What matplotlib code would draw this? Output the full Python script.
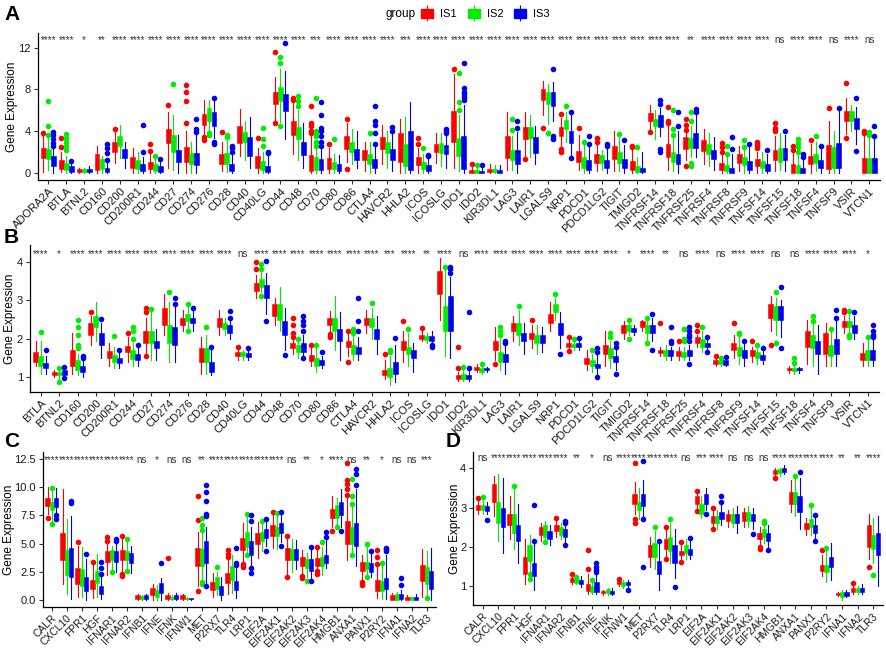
"""Immune checkpoint / ICD gene expression across IS1-IS3 subtypes (4 panels)."""

import matplotlib

matplotlib.use("Agg")

import matplotlib.pyplot as plt
from matplotlib.legend_handler import HandlerTuple
from matplotlib.lines import Line2D
from matplotlib.patches import Patch

plt.rcParams["font.family"] = ["Liberation Sans", "DejaVu Sans"]

GROUPS = ["IS1", "IS2", "IS3"]
COLORS = ["#FF0000", "#00EE00", "#0000F0"]

# ---- panel A / B genes -------------------------------------------------------
A_GENES = ["ADORA2A", "BTLA", "BTNL2", "CD160", "CD200", "CD200R1", "CD244", "CD27", "CD274",
           "CD276", "CD28", "CD40", "CD40LG", "CD44", "CD48", "CD70", "CD80", "CD86", "CTLA4",
           "HAVCR2", "HHLA2", "ICOS", "ICOSLG", "IDO1", "IDO2", "KIR3DL1", "LAG3", "LAIR1",
           "LGALS9", "NRP1", "PDCD1", "PDCD1LG2", "TIGIT", "TMIGD2", "TNFRSF14", "TNFRSF18",
           "TNFRSF25", "TNFRSF4", "TNFRSF8", "TNFRSF9", "TNFSF14", "TNFSF15", "TNFSF18",
           "TNFSF4", "TNFSF9", "VSIR", "VTCN1"]
A_SIG = ["****", "****", "*", "**", "****", "****", "****", "****", "****", "****", "****",
         "****", "****", "****", "****", "***", "****", "****", "****", "****", "***", "****",
         "****", "****", "****", "****", "****", "****", "****", "****", "****", "****", "****",
         "****", "****", "****", "**", "****", "****", "****", "****", "ns", "****", "****",
         "ns", "****", "ns"]

# box stats per gene: (whisker low, q1, median, q3, whisker high, [outliers])
A_IS1 = [
    (0.05, 1.4, 1.9, 2.4, 3.5, [3.8]), (0.05, 0.4, 0.8, 1.2, 2.0, [2.5, 3.3]),
    (0.0, 0.05, 0.2, 0.4, 0.5, []), (0.0, 0.3, 0.7, 1.8, 2.6, []),
    (0.9, 2.0, 2.5, 3.0, 4.0, [4.2]), (0.0, 0.5, 0.9, 1.5, 2.4, []),
    (0.0, 0.4, 0.7, 1.0, 2.0, [2.1, 2.8]), (0.5, 2.9, 3.6, 4.2, 5.8, [6.5]),
    (0.0, 1.0, 1.6, 2.5, 4.0, [4.8, 6.9, 7.8, 8.4]), (3.6, 4.6, 5.2, 5.6, 7.0, [3.1, 3.4]),
    (0.2, 0.8, 1.3, 1.8, 3.0, [3.9]), (1.6, 2.9, 3.7, 4.5, 6.1, []),
    (0.0, 0.5, 0.9, 1.6, 2.4, [3.3]), (4.9, 6.6, 7.2, 7.8, 9.2, [4.8, 11.6]),
    (1.8, 3.6, 4.3, 5.0, 6.8, [7.0, 7.2]), (0.0, 0.2, 0.9, 1.7, 3.5, [3.8, 4.0, 4.5, 4.8, 6.4]),
    (0.0, 0.4, 0.9, 1.4, 2.4, [2.8]), (1.0, 2.3, 2.9, 3.5, 4.8, [0.4, 5.2]),
    (0.2, 1.2, 1.7, 2.2, 3.0, []), (0.8, 2.3, 2.8, 3.4, 4.6, []),
    (0.0, 1.0, 2.6, 3.8, 5.2, []), (0.0, 0.7, 1.0, 1.5, 2.4, [2.8, 3.3]),
    (0.9, 2.0, 2.4, 2.8, 3.8, []), (0.5, 3.0, 4.5, 5.9, 9.5, [10.0]),
    (0.0, 0.0, 0.1, 0.3, 0.7, [0.8]), (0.0, 0.05, 0.15, 0.4, 0.8, []),
    (0.3, 1.4, 2.6, 3.5, 5.8, []), (1.6, 3.2, 4.0, 4.4, 5.8, [1.3]),
    (5.5, 7.0, 7.6, 8.0, 8.8, [4.3]), (2.4, 3.5, 3.9, 4.4, 5.3, [2.0, 2.3, 5.6]),
    (0.3, 1.0, 1.5, 2.1, 3.6, [4.3]), (0.2, 0.9, 1.3, 1.8, 2.8, [3.0, 3.3]),
    (0.2, 1.3, 1.9, 2.6, 4.0, []), (0.0, 0.3, 0.6, 1.1, 2.2, [2.5, 2.6]),
    (4.0, 5.0, 5.4, 5.7, 6.5, [3.9]), (0.3, 1.5, 2.0, 2.8, 4.5, [4.8, 5.0, 6.3]),
    (1.2, 2.3, 2.8, 3.4, 3.9, [0.6, 4.1, 4.6, 5.2]), (0.8, 2.1, 2.6, 3.1, 4.2, []),
    (0.0, 0.3, 0.5, 0.9, 1.7, [2.0, 2.5, 2.9]), (0.2, 0.9, 1.3, 1.8, 2.6, []),
    (0.0, 0.6, 0.9, 1.3, 2.0, [2.4, 2.7, 3.0]), (0.2, 1.2, 1.6, 2.2, 3.5, [4.0, 4.3, 4.8]),
    (0.0, 0.0, 0.2, 0.8, 2.0, [2.2, 2.6]), (0.0, 0.8, 1.2, 1.6, 2.8, [3.1]),
    (0.0, 0.4, 1.4, 2.7, 5.0, [6.2]), (3.7, 5.0, 5.5, 5.9, 7.2, [3.3, 8.6]),
    (0.0, 0.0, 0.3, 1.4, 3.5, [3.8, 4.0]),
]
A_IS2 = [
    (0.3, 1.3, 1.8, 2.3, 3.3, [3.6, 4.5, 6.9]), (0.0, 0.25, 0.5, 0.9, 1.6, [2.2, 2.6, 3.0, 3.3, 3.7]),
    (0.0, 0.05, 0.2, 0.4, 0.5, []), (0.0, 0.4, 0.8, 1.3, 1.6, []),
    (1.4, 2.6, 3.0, 3.5, 4.6, []), (0.0, 0.4, 0.7, 1.2, 2.0, []),
    (0.0, 0.2, 0.5, 0.8, 1.5, [1.6]), (0.3, 2.0, 2.8, 3.6, 5.5, [8.5]),
    (0.0, 0.8, 1.3, 1.9, 3.0, []), (3.9, 5.0, 5.7, 6.2, 7.0, [3.6, 3.8]),
    (0.1, 0.8, 1.2, 1.9, 3.2, [3.4, 3.6]), (1.2, 3.0, 3.3, 3.9, 5.0, []),
    (0.0, 0.3, 0.7, 1.1, 2.0, [2.6, 3.2, 4.3]), (4.9, 6.9, 7.6, 8.2, 10.0, [4.5, 10.5, 11.1]),
    (1.2, 3.2, 3.8, 4.4, 6.0, [6.4, 6.9, 7.4]), (0.0, 0.3, 0.8, 1.5, 2.5, [2.6, 3.0, 3.5, 3.8, 4.0, 7.2]),
    (0.0, 0.4, 0.7, 1.0, 1.8, [3.2]), (0.8, 2.0, 2.5, 3.0, 4.2, []),
    (0.0, 0.8, 1.3, 1.8, 3.0, [3.8]), (0.5, 1.9, 2.4, 3.0, 4.0, []),
    (0.0, 0.6, 1.6, 2.8, 5.4, []), (0.0, 0.4, 0.7, 1.0, 1.8, [2.4]),
    (0.6, 1.9, 2.4, 2.9, 3.8, []), (0.2, 1.6, 2.3, 3.3, 5.5, [6.0, 6.8, 9.6]),
    (0.0, 0.0, 0.1, 0.3, 0.6, [0.7]), (0.0, 0.05, 0.15, 0.35, 0.7, []),
    (0.3, 1.2, 1.6, 2.2, 3.5, [4.1, 5.2]), (1.5, 3.3, 3.9, 4.4, 5.5, []),
    (4.7, 6.6, 7.2, 7.8, 8.5, [3.8]), (3.0, 4.2, 4.7, 5.1, 5.8, [6.4]),
    (0.0, 0.5, 0.9, 1.5, 2.8, [3.0]), (0.3, 0.9, 1.3, 1.7, 2.2, []),
    (0.2, 0.9, 1.4, 2.0, 3.6, [3.7]), (0.0, 0.1, 0.3, 0.6, 1.5, [2.5]),
    (3.2, 4.5, 4.8, 5.2, 6.0, []), (0.2, 1.0, 1.5, 2.0, 3.5, [3.6, 4.2, 6.0]),
    (1.5, 2.4, 2.8, 3.3, 4.5, [0.6, 0.9, 5.0, 5.8]), (0.6, 1.8, 2.3, 2.8, 3.8, []),
    (0.0, 0.2, 0.4, 0.7, 1.5, [1.8, 2.6]), (0.0, 0.7, 1.0, 1.5, 2.3, [2.5, 3.1]),
    (0.0, 0.5, 0.8, 1.1, 2.0, []), (0.3, 1.0, 1.7, 2.4, 3.8, []),
    (0.0, 0.0, 0.2, 0.7, 1.8, [2.0, 2.5, 2.9, 3.2]), (0.2, 0.9, 1.3, 1.8, 3.0, [3.5]),
    (0.0, 0.5, 1.2, 2.5, 4.0, []), (4.0, 5.0, 5.4, 5.9, 6.5, []),
    (0.0, 0.0, 0.5, 1.4, 3.5, [3.6, 3.9]),
]
A_IS3 = [
    (0.0, 0.6, 1.0, 1.6, 2.5, [2.6, 2.9, 3.2, 3.6, 3.9]), (0.0, 0.1, 0.3, 0.6, 1.0, [1.1]),
    (0.0, 0.05, 0.15, 0.35, 0.6, []), (0.0, 0.1, 0.3, 0.5, 1.0, [1.2, 1.9, 2.4, 2.8]),
    (0.5, 1.4, 1.8, 2.3, 3.0, []), (0.0, 0.2, 0.4, 0.8, 1.5, [2.0, 4.6]),
    (0.0, 0.1, 0.3, 0.6, 1.2, [1.3]), (0.0, 1.0, 1.5, 2.2, 3.6, []),
    (0.0, 0.7, 1.2, 1.9, 3.8, [3.9, 4.2, 5.2]), (3.3, 4.5, 5.2, 5.8, 6.9, [2.8, 3.0, 7.2]),
    (0.0, 0.2, 0.5, 0.8, 1.8, [2.0, 2.4, 2.6]), (0.5, 1.6, 2.6, 3.4, 5.4, []),
    (0.0, 0.1, 0.3, 0.6, 1.8, [1.9, 2.0]), (3.2, 5.9, 6.8, 7.6, 9.8, [12.5]),
    (0.5, 1.7, 2.3, 3.0, 4.8, []), (0.0, 0.3, 0.7, 1.3, 2.5, [2.6, 3.0, 3.5, 4.0, 4.3, 5.5, 6.8]),
    (0.0, 0.2, 0.5, 0.8, 1.7, []), (0.5, 1.2, 1.7, 2.3, 4.0, []),
    (0.0, 0.5, 0.9, 1.3, 2.6, [2.8, 3.8, 4.6, 5.0, 6.4]), (0.2, 1.2, 1.7, 2.3, 3.8, [4.0, 4.4]),
    (0.0, 0.3, 1.2, 4.0, 6.8, []), (0.0, 0.2, 0.4, 0.7, 1.4, [1.6, 1.7]),
    (0.5, 1.8, 2.2, 2.7, 3.5, [3.8, 4.0, 4.2]), (0.0, 0.4, 2.0, 3.5, 6.5, [7.0, 7.3, 7.6, 7.8, 8.1, 10.5]),
    (0.0, 0.0, 0.1, 0.2, 0.6, [0.7]), (0.0, 0.0, 0.1, 0.3, 0.7, []),
    (0.0, 0.8, 1.5, 2.2, 3.9, [4.3, 5.0]), (0.8, 1.9, 2.7, 3.4, 4.5, []),
    (5.0, 6.4, 7.0, 7.8, 8.7, [3.2, 3.5, 10.0]), (1.5, 2.9, 3.4, 4.0, 5.5, [1.4, 5.8]),
    (0.0, 0.3, 0.7, 1.2, 2.6, [2.8, 3.5]), (0.0, 0.5, 0.8, 1.2, 2.4, [2.6, 2.8]),
    (0.0, 0.5, 0.9, 1.3, 2.7, [3.1]), (0.0, 0.1, 0.3, 0.5, 2.0, []),
    (3.5, 4.4, 5.0, 5.5, 6.2, [2.0, 2.3, 6.6, 7.0]), (0.0, 0.8, 1.2, 1.8, 4.0, [4.5, 5.8]),
    (1.5, 2.4, 3.2, 3.8, 5.5, [5.8, 6.1]), (0.3, 1.3, 1.7, 2.2, 3.4, []),
    (0.0, 0.0, 0.2, 0.5, 1.8, [2.3, 3.4]), (0.0, 0.3, 0.6, 1.1, 2.5, [2.8]),
    (0.0, 0.2, 0.5, 0.8, 1.8, [2.2]), (0.2, 1.2, 1.7, 2.4, 3.6, [4.0]),
    (0.0, 0.0, 0.1, 0.5, 1.3, [1.5, 1.8]), (0.0, 0.5, 0.8, 1.2, 2.3, [2.6]),
    (0.0, 0.5, 1.6, 2.9, 6.0, [6.2]), (2.8, 4.2, 4.7, 5.3, 6.3, [2.1, 7.2]),
    (0.0, 0.0, 0.4, 1.4, 3.4, [3.5, 4.5]),
]

B_GENES = A_GENES[1:]
B_SIG = ["****", "*", "****", "****", "****", "****", "****", "****", "****", "****", "****",
         "ns", "****", "****", "****", "****", "****", "****", "****", "***", "****", "**",
         "****", "ns", "****", "****", "****", "****", "****", "****", "****", "****", "*",
         "****", "**", "ns", "****", "ns", "****", "****", "ns", "ns", "****", "****", "****", "*"]
B_IS1 = [
    (1.3, 1.41, 1.55, 1.67, 1.95, []), (1.0, 1.05, 1.1, 1.15, 1.2, []),
    (1.1, 1.3, 1.45, 1.7, 2.15, []), (1.85, 2.1, 2.25, 2.4, 2.6, [2.7]),
    (1.3, 1.5, 1.6, 1.68, 1.9, []), (1.4, 1.65, 1.75, 1.82, 2.05, [2.15]),
    (1.6, 1.9, 2.05, 2.2, 2.55, [1.55, 2.7, 2.8]), (2.1, 2.35, 2.55, 2.8, 3.15, []),
    (2.2, 2.35, 2.45, 2.55, 2.75, []), (1.1, 1.4, 1.55, 1.75, 2.05, []),
    (2.1, 2.3, 2.4, 2.55, 2.75, []), (1.45, 1.55, 1.6, 1.65, 1.75, [1.8]),
    (3.05, 3.25, 3.35, 3.45, 3.65, [3.8, 4.0]), (2.35, 2.6, 2.75, 2.9, 3.05, []),
    (1.6, 1.75, 1.8, 1.88, 2.0, [2.05, 2.15, 2.35, 2.55]), (1.3, 1.42, 1.5, 1.58, 1.75, [1.85]),
    (2.2, 2.35, 2.45, 2.55, 2.72, [2.05, 2.12]), (1.55, 1.8, 1.88, 1.95, 2.15, [1.4, 2.2]),
    (2.15, 2.35, 2.45, 2.55, 2.75, []), (0.95, 1.05, 1.1, 1.2, 1.45, [1.6]),
    (1.4, 1.7, 1.8, 1.95, 2.2, [2.45]), (1.95, 2.0, 2.05, 2.1, 2.2, [2.27]),
    (2.5, 3.15, 3.45, 3.75, 4.1, []), (0.9, 0.95, 1.0, 1.05, 1.15, [1.25, 1.8]),
    (1.15, 1.2, 1.22, 1.28, 1.35, []), (1.45, 1.7, 1.85, 1.95, 2.3, [1.35]),
    (1.95, 2.2, 2.3, 2.4, 2.6, []), (1.75, 2.0, 2.07, 2.15, 2.35, [2.5]),
    (2.2, 2.4, 2.5, 2.65, 2.95, []), (1.72, 1.8, 1.85, 1.9, 1.98, [1.68, 2.05]),
    (1.2, 1.35, 1.42, 1.5, 1.7, []), (1.3, 1.6, 1.75, 1.85, 2.2, []),
    (2.0, 2.15, 2.25, 2.35, 2.45, []), (2.2, 2.3, 2.35, 2.45, 2.5, []),
    (1.55, 1.62, 1.67, 1.72, 1.8, [2.4]), (1.45, 1.55, 1.62, 1.68, 1.8, [1.95]),
    (1.8, 1.9, 1.97, 2.05, 2.1, [2.2, 2.35]), (1.3, 1.35, 1.4, 1.45, 1.5, [1.55]),
    (1.5, 1.7, 1.8, 1.9, 2.1, [2.4]), (1.4, 1.55, 1.62, 1.72, 1.8, [1.95]),
    (2.2, 2.55, 2.7, 2.9, 3.1, [1.85]), (1.12, 1.18, 1.2, 1.25, 1.3, []),
    (1.35, 1.8, 1.95, 2.2, 2.5, []), (1.3, 1.6, 1.85, 2.15, 2.4, []),
    (2.15, 2.3, 2.38, 2.45, 2.6, [2.7, 2.75]), (1.3, 1.45, 1.5, 1.62, 1.9, []),
]
B_IS2 = [
    (1.1, 1.3, 1.45, 1.55, 1.95, [2.18]), (0.95, 1.05, 1.1, 1.15, 1.2, [0.88, 1.25]),
    (1.05, 1.2, 1.3, 1.45, 1.6, [1.75, 1.85, 2.1, 2.3, 2.48]), (1.95, 2.3, 2.45, 2.6, 2.95, []),
    (1.25, 1.4, 1.5, 1.58, 1.8, [2.08]), (1.3, 1.48, 1.58, 1.7, 1.9, [2.0, 2.2, 2.3]),
    (1.45, 1.9, 2.05, 2.2, 2.7, [2.78]), (1.4, 1.9, 2.1, 2.35, 2.95, [3.2]),
    (2.25, 2.45, 2.55, 2.65, 2.85, [2.2, 2.9]), (1.1, 1.4, 1.55, 1.75, 2.1, [2.3]),
    (2.1, 2.25, 2.32, 2.4, 2.55, []), (1.45, 1.55, 1.58, 1.65, 1.7, []),
    (3.2, 3.35, 3.45, 3.55, 3.75, [3.1, 3.8, 3.95]), (2.2, 2.5, 2.7, 2.9, 3.35, []),
    (1.5, 1.65, 1.75, 1.85, 1.95, [2.0]), (1.15, 1.3, 1.4, 1.5, 1.75, [1.85]),
    (1.7, 2.2, 2.4, 2.55, 3.1, []), (1.45, 1.6, 1.7, 1.85, 2.1, [2.15, 2.25]),
    (2.0, 2.3, 2.42, 2.55, 2.8, [2.92]), (0.8, 1.0, 1.1, 1.25, 1.55, [1.65, 1.72]),
    (1.3, 1.6, 1.7, 1.8, 2.15, [2.25]), (1.9, 1.98, 2.02, 2.06, 2.15, []),
    (1.55, 2.2, 2.5, 2.85, 3.8, [3.85]), (0.9, 0.95, 1.0, 1.08, 1.25, [1.28]),
    (1.1, 1.15, 1.2, 1.25, 1.33, [1.35]), (1.2, 1.4, 1.5, 1.65, 2.0, [2.1, 2.2, 2.3]),
    (1.85, 2.1, 2.25, 2.4, 2.75, [2.85]), (1.6, 1.9, 2.0, 2.1, 2.35, []),
    (2.5, 2.7, 2.8, 2.9, 3.05, [3.15]), (1.7, 1.78, 1.82, 1.87, 1.95, [2.0]),
    (1.15, 1.3, 1.38, 1.45, 1.6, [1.7]), (1.25, 1.5, 1.6, 1.75, 1.95, [2.05, 2.15]),
    (2.1, 2.2, 2.27, 2.35, 2.45, [2.0, 2.5]), (1.95, 2.15, 2.25, 2.35, 2.5, [1.9, 2.55]),
    (1.45, 1.55, 1.62, 1.7, 1.85, []), (1.45, 1.52, 1.58, 1.65, 1.8, [1.95, 2.0, 2.25]),
    (1.65, 1.8, 1.9, 2.0, 2.2, [2.3]), (1.3, 1.35, 1.38, 1.45, 1.48, [1.5]),
    (1.35, 1.55, 1.65, 1.8, 2.05, [2.12, 2.15]), (1.35, 1.5, 1.55, 1.65, 1.8, [1.85]),
    (2.1, 2.5, 2.65, 2.85, 3.05, [1.9, 3.2]), (1.1, 1.17, 1.2, 1.25, 1.3, [1.38, 1.5]),
    (1.3, 1.75, 1.9, 2.1, 2.4, [2.45, 2.6]), (1.3, 1.55, 1.65, 1.85, 2.2, [2.25]),
    (2.15, 2.3, 2.38, 2.45, 2.65, [2.05, 2.1, 2.73]), (1.3, 1.45, 1.55, 1.7, 2.0, [2.05]),
]
B_IS3 = [
    (1.1, 1.25, 1.32, 1.38, 1.55, [1.72]), (1.0, 1.05, 1.12, 1.18, 1.22, [0.98, 1.27]),
    (1.0, 1.15, 1.22, 1.3, 1.45, [1.5, 1.55]), (1.5, 1.85, 2.0, 2.15, 2.4, [2.52]),
    (1.25, 1.38, 1.45, 1.5, 1.62, [1.7]), (1.3, 1.45, 1.52, 1.6, 1.75, [1.85]),
    (1.45, 1.75, 1.85, 1.95, 2.25, []), (1.4, 1.85, 2.1, 2.3, 2.85, [2.9, 3.05]),
    (2.2, 2.4, 2.48, 2.55, 2.75, [2.8]), (1.05, 1.15, 1.25, 1.4, 1.7, [1.8]),
    (2.0, 2.15, 2.25, 2.35, 2.5, [2.55, 2.72]), (1.45, 1.54, 1.58, 1.63, 1.72, [1.77]),
    (2.65, 3.05, 3.2, 3.4, 3.7, [2.45, 4.02]), (1.7, 2.1, 2.3, 2.45, 2.8, [1.58]),
    (1.55, 1.65, 1.78, 1.9, 2.1, [1.5, 2.2, 2.35, 2.45, 2.6]), (1.25, 1.33, 1.4, 1.45, 1.55, [1.65]),
    (1.45, 1.95, 2.1, 2.25, 2.7, []), (1.45, 1.6, 1.7, 1.8, 2.05, [2.2, 2.45, 3.07]),
    (1.6, 2.0, 2.12, 2.25, 2.6, []), (0.88, 1.1, 1.2, 1.4, 1.85, [2.02]),
    (1.15, 1.5, 1.6, 1.7, 1.9, []), (1.88, 1.95, 2.02, 2.08, 2.2, [1.8, 1.85]),
    (1.5, 2.2, 2.5, 3.1, 3.6, [3.7, 3.8, 3.85]), (0.9, 0.95, 1.0, 1.05, 1.2, [1.25, 2.7]),
    (1.15, 1.18, 1.21, 1.24, 1.28, []), (1.1, 1.4, 1.5, 1.6, 1.85, [1.9, 1.95]),
    (1.6, 1.95, 2.05, 2.15, 2.4, []), (1.65, 1.9, 2.0, 2.1, 2.3, []),
    (1.75, 2.1, 2.25, 2.4, 2.7, [1.6]), (1.7, 1.8, 1.85, 1.9, 1.98, [2.02]),
    (1.1, 1.25, 1.3, 1.35, 1.6, [1.0, 1.65, 1.75]), (1.2, 1.4, 1.48, 1.55, 1.75, [1.1, 1.8, 1.9]),
    (2.1, 2.18, 2.23, 2.28, 2.35, []), (1.95, 2.15, 2.25, 2.35, 2.55, [1.7, 2.65]),
    (1.45, 1.55, 1.62, 1.7, 1.8, [1.9, 1.95, 2.3]), (1.45, 1.55, 1.62, 1.7, 1.85, [1.35, 1.95, 2.05, 2.1, 2.2, 2.3]),
    (1.7, 1.8, 1.85, 1.9, 2.0, [1.65, 2.05]), (1.3, 1.33, 1.38, 1.45, 1.48, [1.52]),
    (1.3, 1.5, 1.6, 1.7, 1.9, [1.95]), (1.35, 1.45, 1.5, 1.58, 1.7, [1.75]),
    (2.05, 2.5, 2.65, 2.85, 3.0, [1.75, 3.35]), (1.12, 1.18, 1.2, 1.24, 1.28, []),
    (1.1, 1.6, 1.7, 1.95, 2.35, []), (1.3, 1.6, 1.75, 2.0, 2.45, [2.55, 2.75]),
    (2.0, 2.15, 2.25, 2.35, 2.6, [2.7]), (1.3, 1.45, 1.55, 1.72, 2.0, [2.05, 2.1, 2.2, 2.35]),
]

# ---- panel C / D genes -------------------------------------------------------
CD_GENES = ["CALR", "CXCL10", "FPR1", "HGF", "IFNAR1", "IFNAR2", "IFNB1", "IFNE", "IFNK",
            "IFNW1", "MET", "P2RX7", "TLR4", "LRP1", "EIF2A", "EIF2AK1", "EIF2AK2", "EIF2AK3",
            "EIF2AK4", "HMGB1", "ANXA1", "PANX1", "P2RY2", "IFNA1", "IFNA2", "TLR3"]
C_SIG = ["****", "****", "****", "****", "****", "****", "ns", "*", "ns", "ns", "**", "****",
         "****", "****", "****", "****", "ns", "**", "*", "****", "ns", "**", "*", "ns", "ns", "***"]
D_SIG = ["ns", "****", "****", "****", "****", "****", "**", "*", "ns", "****", "****", "****",
         "****", "ns", "***", "****", "ns", "ns", "ns", "****", "****", "****", "****", "**", "**", "****"]

C_IS1 = [
    (7.6, 8.3, 8.6, 9.0, 10.0, [7.3]), (1.4, 3.5, 4.5, 5.9, 9.8, []),
    (0.3, 1.4, 2.2, 2.8, 4.8, [5.1]), (0.2, 1.0, 1.4, 1.8, 3.2, [3.4]),
    (2.2, 3.4, 3.9, 4.3, 5.0, [5.2, 5.6]), (2.5, 3.5, 3.9, 4.4, 5.5, [2.1, 2.3, 5.7]),
    (0.0, 0.05, 0.2, 0.4, 0.5, []), (0.0, 0.4, 0.8, 1.1, 1.4, []),
    (0.0, 0.1, 0.3, 0.45, 0.6, [3.7]), (0.0, 0.05, 0.2, 0.4, 0.5, []),
    (1.2, 3.0, 3.9, 4.6, 6.0, [0.8, 7.1, 9.2]), (0.3, 0.9, 1.2, 1.6, 2.4, []),
    (0.5, 1.5, 1.9, 2.4, 3.6, [3.8, 4.1, 4.4]), (3.4, 4.4, 5.0, 5.5, 6.8, [2.9, 3.2]),
    (3.7, 5.0, 5.5, 5.9, 6.9, []), (4.6, 5.7, 6.1, 6.6, 7.6, [7.8]),
    (2.3, 3.5, 4.1, 4.6, 5.6, [2.0, 5.7]), (2.2, 3.0, 3.4, 3.8, 4.4, [1.9, 2.1]),
    (2.7, 3.0, 3.3, 3.7, 4.4, [2.3, 2.6, 4.7]), (6.5, 7.3, 7.7, 8.1, 9.2, [6.1]),
    (3.5, 5.0, 6.0, 7.0, 9.0, [9.3, 9.8, 10.3, 10.6, 12.1]), (1.8, 2.6, 3.0, 3.4, 4.0, [1.3, 1.6]),
    (0.2, 0.8, 1.2, 1.8, 3.0, [3.2, 3.8, 4.4]), (0.0, 0.0, 0.2, 0.4, 0.6, []),
    (0.0, 0.0, 0.15, 0.3, 0.4, []), (0.3, 1.7, 2.4, 3.1, 4.5, []),
]
C_IS2 = [
    (7.0, 8.0, 8.4, 8.7, 9.8, [6.7, 9.9]), (0.5, 2.2, 3.3, 4.4, 7.2, []),
    (0.3, 1.2, 1.8, 2.7, 4.7, []), (0.3, 1.5, 2.1, 2.6, 4.1, []),
    (2.6, 3.5, 4.0, 4.4, 4.8, [2.5]), (2.8, 3.5, 3.9, 4.3, 5.2, [2.6, 5.4]),
    (0.0, 0.05, 0.15, 0.35, 0.4, []), (0.0, 0.3, 0.6, 0.9, 1.3, []),
    (0.0, 0.1, 0.2, 0.3, 0.4, []), (0.0, 0.05, 0.1, 0.2, 0.3, []),
    (1.8, 3.0, 3.8, 4.5, 5.9, [1.4, 1.6, 6.2, 6.6, 7.3]), (0.4, 1.0, 1.5, 2.0, 2.5, [2.9]),
    (0.6, 1.8, 2.4, 3.0, 4.0, []), (4.2, 4.7, 5.4, 6.0, 7.5, [4.0, 7.6]),
    (4.3, 5.2, 5.6, 6.0, 6.9, [7.0]), (4.5, 5.7, 6.0, 6.5, 7.5, [7.7]),
    (2.5, 3.5, 4.0, 4.5, 5.4, []), (2.0, 2.8, 3.2, 3.6, 4.2, [1.7]),
    (2.2, 3.0, 3.4, 3.8, 4.7, [5.1]), (6.7, 7.3, 7.8, 8.4, 9.0, [6.5]),
    (4.2, 5.0, 5.8, 6.5, 8.2, [4.0, 8.5, 9.2, 10.7]), (2.3, 2.7, 3.0, 3.4, 4.8, [2.0, 5.0]),
    (0.1, 0.8, 1.1, 1.7, 3.2, [3.3]), (0.0, 0.0, 0.2, 0.5, 0.7, []),
    (0.0, 0.0, 0.1, 0.25, 0.3, []), (0.3, 1.4, 2.2, 2.9, 4.3, [0.2]),
]
C_IS3 = [
    (7.6, 8.2, 8.6, 9.0, 9.9, [7.2, 7.5]), (0.1, 2.0, 3.4, 4.6, 7.4, [8.6, 8.8]),
    (0.0, 0.8, 1.3, 2.0, 3.6, [4.1]), (0.1, 0.5, 0.8, 1.2, 2.2, [2.3, 2.8, 3.4]),
    (2.5, 3.4, 3.8, 4.3, 5.0, [5.2, 5.4]), (2.4, 3.3, 3.7, 4.2, 4.8, []),
    (0.0, 0.05, 0.15, 0.4, 0.5, []), (0.0, 0.6, 1.0, 1.5, 1.9, [3.3]),
    (0.0, 0.1, 0.2, 0.4, 0.6, []), (0.0, 0.05, 0.1, 0.15, 0.2, []),
    (1.5, 3.3, 4.3, 5.2, 6.5, [1.2, 7.4, 7.6, 8.8, 9.6, 10.2]), (0.0, 0.4, 0.8, 1.2, 2.0, []),
    (0.2, 0.9, 1.3, 1.7, 3.0, [3.1, 3.3, 4.6]), (3.0, 4.0, 4.6, 5.2, 6.5, [2.4, 2.8, 7.0, 7.5]),
    (4.8, 5.5, 5.9, 6.3, 7.0, [4.3, 7.2]), (5.1, 5.9, 6.3, 6.8, 7.6, [4.8, 7.8]),
    (2.7, 3.5, 4.0, 4.5, 5.3, []), (1.9, 2.6, 3.1, 3.6, 4.4, [1.7, 4.7]),
    (2.8, 3.3, 3.6, 4.0, 5.4, [5.6, 6.0]), (6.5, 7.5, 8.1, 8.7, 9.8, [6.1]),
    (3.0, 4.8, 5.8, 6.8, 9.8, [10.2, 11.2, 11.6]), (2.0, 2.5, 2.9, 3.3, 4.2, [4.3]),
    (0.1, 1.0, 1.3, 1.9, 4.0, [4.3, 4.5, 4.6]), (0.0, 0.1, 0.2, 0.5, 0.9, [1.3, 1.9]),
    (0.0, 0.0, 0.15, 0.3, 0.5, []), (0.0, 1.0, 1.8, 2.6, 4.6, []),
]

D_IS1 = [
    (2.85, 2.95, 3.0, 3.08, 3.2, [3.25]), (2.8, 3.15, 3.4, 3.6, 3.8, []),
    (2.2, 2.55, 2.7, 2.85, 3.3, []), (1.05, 1.3, 1.5, 1.75, 2.2, []),
    (2.15, 2.3, 2.4, 2.5, 2.6, []), (2.25, 2.4, 2.48, 2.55, 2.7, [2.75]),
    (1.05, 1.1, 1.15, 1.2, 1.28, [1.3]), (0.8, 0.88, 0.95, 1.05, 1.3, [1.45, 1.92]),
    (0.78, 0.82, 0.85, 0.88, 0.9, []), (1.0, 1.05, 1.08, 1.12, 1.15, [1.18]),
    (2.85, 3.1, 3.2, 3.35, 3.65, [2.6, 2.7, 4.15]), (1.5, 1.75, 1.9, 2.05, 2.25, []),
    (1.75, 1.95, 2.1, 2.2, 2.45, [1.7, 2.5]), (1.7, 1.8, 1.85, 1.9, 2.05, [1.62, 2.12]),
    (2.95, 3.1, 3.2, 3.3, 3.4, [2.92, 3.42]), (2.5, 2.6, 2.7, 2.8, 2.95, [2.45, 3.0]),
    (2.5, 2.65, 2.75, 2.85, 2.95, []), (2.5, 2.65, 2.78, 2.9, 3.0, []),
    (2.05, 2.2, 2.28, 2.35, 2.5, [1.95, 2.0]), (3.78, 3.85, 3.9, 3.95, 4.0, [3.75]),
    (2.9, 3.1, 3.25, 3.4, 3.7, []), (2.3, 2.45, 2.52, 2.6, 2.75, []),
    (1.25, 1.38, 1.45, 1.55, 1.8, [1.93]), (0.75, 0.77, 0.8, 0.82, 0.85, []),
    (0.8, 0.85, 0.9, 0.95, 1.05, [1.08]), (1.7, 2.0, 2.3, 2.55, 2.85, [1.5]),
]
D_IS2 = [
    (2.85, 2.95, 3.0, 3.08, 3.2, [3.28]), (2.15, 2.6, 2.85, 3.15, 3.85, []),
    (1.95, 2.35, 2.6, 2.85, 3.5, [3.55]), (1.35, 1.65, 1.9, 2.05, 2.3, [1.18, 1.3]),
    (2.15, 2.25, 2.4, 2.55, 2.65, [2.12]), (2.2, 2.3, 2.4, 2.5, 2.6, []),
    (1.05, 1.08, 1.12, 1.18, 1.2, [1.23]), (0.8, 0.85, 0.9, 1.0, 1.1, [1.15]),
    (0.78, 0.82, 0.87, 0.92, 0.95, []), (0.95, 1.0, 1.05, 1.1, 1.15, []),
    (2.7, 2.95, 3.05, 3.15, 3.5, []), (1.45, 1.75, 1.9, 2.1, 2.4, [2.5]),
    (1.6, 1.9, 2.05, 2.25, 2.6, [2.72]), (1.7, 1.85, 1.95, 2.05, 2.2, []),
    (2.75, 2.85, 2.95, 3.1, 3.3, []), (2.45, 2.6, 2.7, 2.8, 2.95, []),
    (2.5, 2.6, 2.72, 2.85, 3.0, []), (2.5, 2.65, 2.78, 2.9, 3.05, []),
    (2.1, 2.25, 2.35, 2.45, 2.55, [2.6, 2.65]), (3.82, 3.88, 3.92, 3.98, 4.02, []),
    (2.8, 3.1, 3.25, 3.4, 3.75, [3.8]), (2.3, 2.5, 2.6, 2.7, 3.0, [3.08]),
    (1.1, 1.35, 1.45, 1.55, 1.9, [1.97]), (0.65, 0.72, 0.78, 0.85, 0.9, []),
    (0.8, 0.85, 0.9, 0.95, 1.0, []), (1.6, 1.95, 2.1, 2.3, 2.75, [1.28]),
]
D_IS3 = [
    (2.85, 2.92, 3.0, 3.05, 3.15, [2.68]), (1.85, 2.5, 2.75, 3.0, 3.75, []),
    (1.6, 2.15, 2.35, 2.55, 3.1, []), (0.9, 1.25, 1.4, 1.6, 2.1, [2.15, 3.08]),
    (2.05, 2.2, 2.3, 2.4, 2.55, []), (2.1, 2.25, 2.35, 2.45, 2.55, [2.05, 2.6, 2.65]),
    (0.97, 1.05, 1.1, 1.15, 1.25, []), (0.8, 0.85, 0.95, 1.1, 1.3, [1.35, 1.4, 1.5, 1.6]),
    (0.78, 0.8, 0.85, 0.88, 0.95, []), (0.95, 1.02, 1.06, 1.1, 1.15, [0.9]),
    (2.75, 3.05, 3.2, 3.35, 3.7, [1.48, 2.7, 4.18]), (0.9, 1.3, 1.45, 1.65, 2.1, [2.15]),
    (1.2, 1.6, 1.8, 2.05, 2.45, [0.97]), (1.7, 1.8, 1.87, 1.95, 2.15, [2.22]),
    (2.95, 3.1, 3.25, 3.35, 3.5, [2.85]), (2.55, 2.7, 2.8, 2.9, 3.1, [3.15, 3.3]),
    (2.35, 2.6, 2.72, 2.85, 3.05, []), (2.45, 2.65, 2.75, 2.85, 3.0, [2.33]),
    (1.95, 2.15, 2.25, 2.35, 2.55, [1.92]), (3.85, 3.9, 3.95, 4.02, 4.1, []),
    (2.45, 2.9, 3.1, 3.3, 3.75, [3.92]), (2.2, 2.35, 2.45, 2.55, 2.75, [2.15, 2.82]),
    (1.15, 1.5, 1.6, 1.75, 2.1, []), (0.72, 0.75, 0.8, 0.85, 0.9, []),
    (0.8, 0.85, 0.9, 0.95, 1.05, []), (1.0, 1.8, 2.05, 2.35, 2.8, []),
]

FIG_W, FIG_H = 886, 649


def _rect(left, top, right, bottom):
    # pixel box -> figure fraction rect
    return [left / FIG_W, 1 - bottom / FIG_H, (right - left) / FIG_W, (bottom - top) / FIG_H]


def _draw_panel(fig, box, genes, sig, series, ylim, yticks, yticklabels, sig_y, label_px,
                xfont=8.0):
    ax = fig.add_axes(_rect(*box))
    n = len(genes)
    for k, (rows, color) in enumerate(zip(series, COLORS)):
        stats = [
            dict(whislo=lo, q1=q1, med=med, q3=q3, whishi=hi, fliers=out)
            for lo, q1, med, q3, hi, out in rows
        ]
        positions = [i + 1 + (k - 1) * 0.28 for i in range(n)]
        ax.bxp(
            stats,
            positions=positions,
            widths=0.27,
            patch_artist=True,
            showcaps=False,
            manage_ticks=False,
            boxprops=dict(facecolor=color, edgecolor=color, linewidth=0.4),
            whiskerprops=dict(color=color, linewidth=0.8),
            medianprops=dict(color=color, linewidth=0.4),
            flierprops=dict(marker="o", markersize=3, markerfacecolor=color,
                            markeredgecolor=color, linestyle="none"),
        )
    for i, label in enumerate(sig):
        ax.text(i + 1, sig_y, label, ha="center", va="baseline", fontsize=7, color="#333333")

    ax.set_xlim(0.4, n + 0.6)
    ax.set_ylim(*ylim)
    ax.set_xticks(range(1, n + 1))
    ax.set_xticklabels(genes, rotation=45, ha="right", va="top", rotation_mode="anchor",
                       fontsize=xfont, color="#1a1a1a")
    ax.set_yticks(yticks)
    ax.set_yticklabels(yticklabels, fontsize=8, color="#1a1a1a")
    ax.tick_params(length=3, width=0.8, color="#333333", pad=2)
    ax.tick_params(axis="x", pad=1.5)
    ax.set_ylabel("Gene Expression", fontsize=8.5)
    # place label so its right edge sits at label_px (figure pixels)
    ax.yaxis.set_label_coords((label_px - box[0]) / (box[2] - box[0]), 0.5)
    for side in ("top", "right"):
        ax.spines[side].set_visible(False)
    for side in ("left", "bottom"):
        ax.spines[side].set_linewidth(0.9)
    return ax


fig = plt.figure(figsize=(FIG_W / 100, FIG_H / 100), dpi=100)

_draw_panel(fig, (37.7, 33, 880, 180), A_GENES, A_SIG, [A_IS1, A_IS2, A_IS3],
            (-0.7, 13.43), [0, 4, 8, 12], ["0", "4", "8", "12"], 12.5, 18)
_draw_panel(fig, (29.8, 245, 878.7, 391.7), B_GENES, B_SIG, [B_IS1, B_IS2, B_IS3],
            (0.63, 4.43), [1, 2, 3, 4], ["1", "2", "3", "4"], 4.12, 16)
_draw_panel(fig, (42.7, 452, 435.7, 606.7), CD_GENES, C_SIG, [C_IS1, C_IS2, C_IS3],
            (-0.6, 13.11), [0, 2.5, 5, 7.5, 10, 12.5],
            ["0.0", "2.5", "5.0", "7.5", "10.0", "12.5"], 12.15, 15.5, xfont=7.4)
_draw_panel(fig, (473.3, 452, 882.7, 605), CD_GENES, D_SIG, [D_IS1, D_IS2, D_IS3],
            (0.52, 4.42), [1, 2, 3, 4], ["1", "2", "3", "4"], 4.19, 461, xfont=7.4)

for letter, x, y in [("A", 4, 5), ("B", 4, 228), ("C", 4, 432), ("D", 446, 432)]:
    fig.text(x / FIG_W, 1 - y / FIG_H, letter, fontsize=15, fontweight="bold", va="top", ha="left")

# legend: "group" title on the left, three box keys
fig.text(386 / FIG_W, 1 - 14 / FIG_H, "group", fontsize=8.5, va="center", ha="left")
handles = [
    (Patch(facecolor=c, edgecolor=c),
     Line2D([], [], color=c, marker="|", markersize=12, markeredgewidth=0.8, linestyle="none"))
    for c in COLORS
]
fig.legend(handles, GROUPS, loc="center left", bbox_to_anchor=(421 / FIG_W, 1 - 14 / FIG_H),
           ncol=3, frameon=False, fontsize=8, handlelength=1.1, handleheight=0.9,
           handletextpad=0.6, columnspacing=1.0, borderpad=0, borderaxespad=0,
           handler_map={tuple: HandlerTuple(ndivide=1, pad=0)})

fig.savefig("out.png", dpi=100)
